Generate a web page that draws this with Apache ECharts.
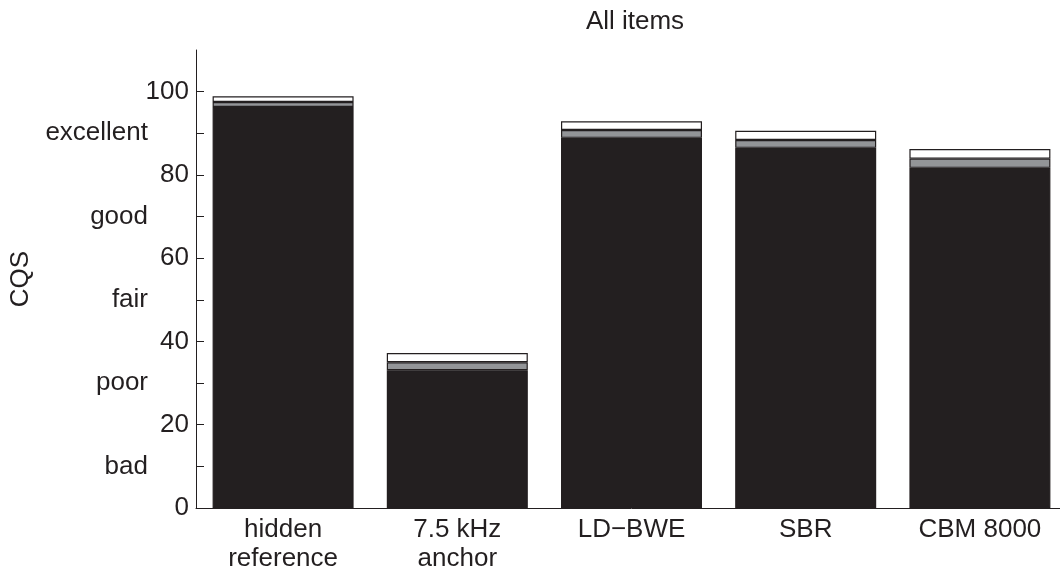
<!DOCTYPE html>
<html>
<head>
<meta charset="utf-8">
<script src="https://cdn.jsdelivr.net/npm/echarts@6/dist/echarts.min.js"></script>
<style>
  html, body { margin: 0; padding: 0; background: #fff; overflow: hidden; }
  /* the plot area runs slightly past the right edge of the window */
  #chart { width: 1075px; height: 574px; }
</style>
</head>
<body>
<div id="chart"></div>
<script>
// Conditions tested, with the lower confidence bound, the mean and the upper bound of the CQS score
const categories = ['hidden\nreference', '7.5 kHz\nanchor', 'LD\u2212BWE', 'SBR', 'CBM 8000'];
const ciLow  = [96.3, 33.1, 88.9, 86.5, 81.7];
const means  = [97.5, 35.0, 90.8, 88.4, 83.9];
const ciHigh = [98.9, 37.2, 92.9, 90.6, 86.2];

// Numeric ticks and the verbal grades that sit between them
const numTicks = [0, 20, 40, 60, 80, 100];
const gradeTicks = [10, 30, 50, 70, 90];
const gradeNames = ['bad', 'poor', 'fair', 'good', 'excellent'];
const allTicks = [0, 10, 20, 30, 40, 50, 60, 70, 80, 90, 100];

const ink = '#231f20';
const font = '"Liberation Sans", Arial, Helvetica, sans-serif';
const fs = 26;

// Stacked segments: solid up to the lower bound, then the two halves of the interval
const segBase = ciLow;
const segLower = means.map((m, i) => +(m - ciLow[i]).toFixed(3));
const segUpper = ciHigh.map((h, i) => +(h - means[i]).toFixed(3));

const chart = echarts.init(document.getElementById('chart'), null, { renderer: 'canvas' });

const seg = (name, data, color) => ({
  name, type: 'bar', stack: 'cqs', data,
  barWidth: 141,
  itemStyle: { color, borderColor: ink, borderWidth: 1.2 },
  emphasis: { disabled: true },
  silent: true
});

chart.setOption({
  animation: false,
  backgroundColor: '#fff',
  title: {
    text: 'All items',
    left: 630, top: 4, textAlign: 'center',
    textStyle: { fontFamily: font, fontSize: fs, fontWeight: 'normal', color: ink }
  },
  grid: { left: 195, top: 50, width: 872, height: 458, containLabel: false },
  xAxis: {
    type: 'category', data: categories,
    axisLine: { lineStyle: { color: ink, width: 1 } },
    axisTick: { show: false },
    axisLabel: { margin: 7, fontFamily: font, fontSize: fs, color: ink, lineHeight: 29, interval: 0 },
    splitLine: { show: false }
  },
  yAxis: [
    {
      type: 'value', min: 0, max: 110, interval: 10, position: 'left',
      name: 'CQS', nameLocation: 'middle', nameRotate: 90, nameGap: 162,
      nameTextStyle: { fontFamily: font, fontSize: fs, color: ink },
      axisLine: { show: true, lineStyle: { color: ink, width: 1 } },
      axisTick: { show: true, inside: true, length: 8, customValues: allTicks, lineStyle: { color: ink } },
      axisLabel: { margin: 7, fontFamily: font, fontSize: fs, color: ink, customValues: numTicks },
      splitLine: { show: false }
    },
    {
      type: 'value', min: 0, max: 110, interval: 10, position: 'left',
      axisLine: { show: false },
      axisTick: { show: false },
      axisLabel: {
        margin: 48, fontFamily: font, fontSize: fs, color: ink, customValues: gradeTicks,
        formatter: v => gradeNames[gradeTicks.indexOf(v)] || ''
      },
      splitLine: { show: false }
    }
  ],
  series: [
    seg('lower bound', segBase, ink),
    seg('lower half', segLower, '#939598'),
    seg('upper half', segUpper, '#ffffff')
  ]
});
</script>
</body>
</html>
